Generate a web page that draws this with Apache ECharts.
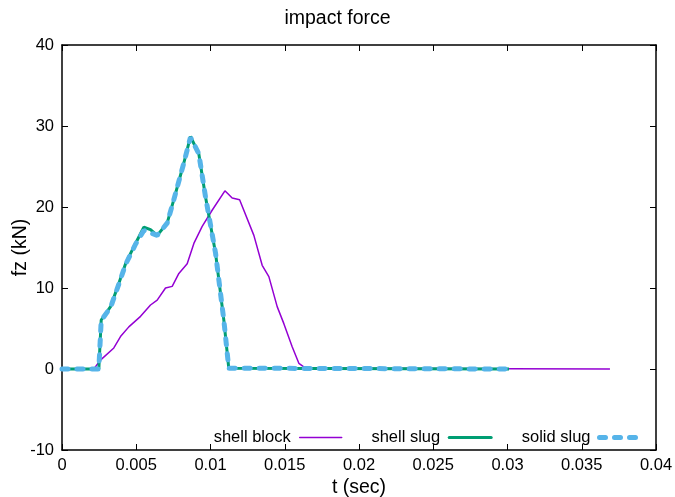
<!DOCTYPE html>
<html>
<head>
<meta charset="utf-8">
<script src="https://cdn.jsdelivr.net/npm/echarts@6/dist/echarts.min.js"></script>
<style>
  html, body { margin: 0; padding: 0; background: #fff; }
  #chart { width: 675px; height: 497px; }
</style>
</head>
<body>
<div id="chart"></div>
<script>
// values (t in sec, fz in kN)
const tShellBlock = [0, 0.00214, 0.00259, 0.00349, 0.00394, 0.0045, 0.00529, 0.00596, 0.00641,
  0.00697, 0.00742, 0.00787, 0.00843, 0.00888, 0.00944, 0.01011, 0.01097, 0.01146, 0.01196,
  0.01292, 0.01348, 0.01393, 0.01449, 0.01494, 0.0155, 0.01595, 0.0164, 0.0369];
const fShellBlock = [0, 0, 1.1, 2.6, 4.0, 5.2, 6.5, 7.9, 8.5,
  10.0, 10.2, 11.8, 13.0, 15.5, 17.6, 19.6, 22.0, 21.1, 20.9,
  16.5, 12.8, 11.4, 7.7, 5.6, 2.75, 0.7, 0.1, 0];

const tShellSlug = [0, 0.00248, 0.00264, 0.00327, 0.00383, 0.00428, 0.00495, 0.00551, 0.00596,
  0.00641, 0.00708, 0.00753, 0.0082, 0.00865, 0.00921, 0.00966, 0.01034, 0.0109, 0.01123, 0.0301];
const fShellSlug = [0, 0, 6.05, 7.7, 10.6, 13.0, 15.5, 17.5, 17.2,
  16.5, 18.0, 20.9, 25.4, 28.7, 26.6, 21.3, 14.3, 6.0, 0.1, 0];

const tSolidSlug = [0, 0.00248, 0.00264, 0.00327, 0.00383, 0.00428, 0.00495, 0.00551, 0.00596,
  0.00641, 0.00708, 0.00753, 0.0082, 0.00865, 0.00921, 0.00966, 0.01034, 0.0109, 0.01123, 0.0301];
const fSolidSlug = [0, 0, 6.0, 7.6, 10.5, 12.9, 15.4, 17.1, 16.8,
  16.5, 18.0, 20.9, 25.4, 28.6, 26.6, 21.3, 14.3, 6.0, 0.1, 0];

const seriesNames = ["shell block", "shell slug", "solid slug"];

const pairs = (ts, fs) => ts.map((t, i) => [t, fs[i]]);

const fontFam = "Liberation Sans, Arial, sans-serif";
const ink = "#000";

const xBase = {
  type: "value",
  min: 0,
  max: 0.04,
  interval: 0.005,
  axisLine: { show: true, onZero: false, lineStyle: { color: ink, width: 1.5 } },
  axisTick: { show: true, inside: true, length: 6, lineStyle: { color: ink } },
  splitLine: { show: false },
};
const yBase = {
  type: "value",
  min: -10,
  max: 40,
  interval: 10,
  axisLine: { show: true, onZero: false, lineStyle: { color: ink, width: 1.5 } },
  axisTick: { show: true, inside: true, length: 6, lineStyle: { color: ink } },
  splitLine: { show: false },
};

const option = {
  backgroundColor: "#fff",
  animation: false,
  title: {
    text: "impact force",
    left: "center",
    top: 4,
    textStyle: { fontFamily: fontFam, fontSize: 19.5, fontWeight: "normal", color: ink },
  },
  grid: { left: 62, right: 19, top: 45, bottom: 47, outerBoundsMode: "none" },
  legend: {
    data: seriesNames,
    right: 26,
    top: 424,
    align: "right",
    itemWidth: 42,
    itemHeight: 12,
    itemGap: 29,
    itemStyle: { opacity: 0 },
    lineStyle: { width: "inherit", cap: "round" },
    textStyle: { fontFamily: fontFam, fontSize: 16.5, color: ink, padding: [0, 4, 0, 0] },
  },
  xAxis: [
    Object.assign({}, xBase, {
      position: "bottom",
      name: "t (sec)",
      nameLocation: "middle",
      nameGap: 28,
      nameMoveOverlap: false,
      nameTextStyle: { fontFamily: fontFam, fontSize: 19.5, color: ink },
      axisLabel: {
        fontFamily: fontFam,
        fontSize: 16.5,
        color: ink,
        margin: 7,
        formatter: (v) => String(+v.toFixed(3)),
      },
    }),
    Object.assign({}, xBase, { position: "top", axisLabel: { show: false } }),
  ],
  yAxis: [
    Object.assign({}, yBase, {
      position: "left",
      name: "fz (kN)",
      nameLocation: "middle",
      nameGap: 31,
      nameMoveOverlap: false,
      nameRotate: 90,
      nameTextStyle: { fontFamily: fontFam, fontSize: 19.5, color: ink },
      axisLabel: { fontFamily: fontFam, fontSize: 16.5, color: ink, margin: 8 },
    }),
    Object.assign({}, yBase, { position: "right", axisLabel: { show: false } }),
  ],
  series: [
    {
      name: seriesNames[0],
      type: "line",
      symbol: "none",
      data: pairs(tShellBlock, fShellBlock),
      lineStyle: { color: "#9400D3", width: 1.5 },
      itemStyle: { color: "#9400D3" },
      z: 2,
    },
    {
      name: seriesNames[1],
      type: "line",
      symbol: "none",
      data: pairs(tShellSlug, fShellSlug),
      lineStyle: { color: "#009E73", width: 3 },
      itemStyle: { color: "#009E73" },
      z: 3,
    },
    {
      name: seriesNames[2],
      type: "line",
      symbol: "none",
      data: pairs(tSolidSlug, fSolidSlug),
      lineStyle: { color: "#56B4E9", width: 5, type: [6, 9], cap: "round" },
      itemStyle: { color: "#56B4E9" },
      z: 4,
    },
  ],
};

const chart = echarts.init(document.getElementById("chart"));
chart.setOption(option);
</script>
</body>
</html>
